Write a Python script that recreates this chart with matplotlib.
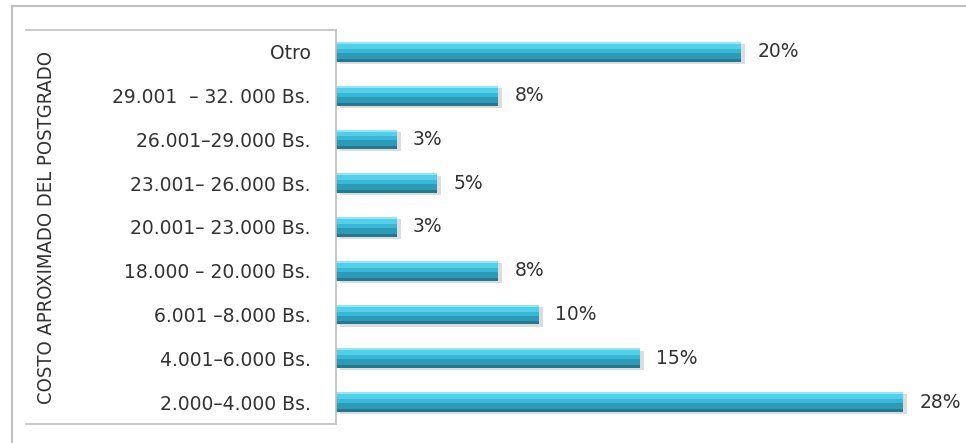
import matplotlib.pyplot as plt
from matplotlib.lines import Line2D

categorias = ['2.000\u20134.000 Bs.', '4.001\u20136.000 Bs.', '6.001 \u20138.000 Bs.',
              '18.000 \u2013 20.000 Bs.', '20.001\u2013 23.000 Bs.', '23.001\u2013 26.000 Bs.',
              '26.001\u201329.000 Bs.', '29.001  \u2013 32. 000 Bs.', 'Otro']
porcentajes = [28, 15, 10, 8, 3, 5, 3, 8, 20]
etiquetas = ['28%', '15%', '10%', '8%', '3%', '5%', '3%', '8%', '20%']

plt.rcParams['font.family'] = ['DejaVu Sans']

fig = plt.figure(figsize=(9.66, 4.43), dpi=100)
ax = fig.add_axes([336 / 966, 19 / 443, 630 / 966, 394 / 443])

pos = list(range(len(categorias)))
alto = 0.45

# capas del degradado: (inicio, fin) como fraccion del alto, color
capas = [(0.00, 0.15, '#237990'), (0.15, 0.45, '#2d9bb7'), (0.45, 0.65, '#39b8d5'),
         (0.65, 0.90, '#52d0ea'), (0.90, 1.00, '#93e6f5')]

# sombra
ax.barh([p - 0.05 for p in pos], porcentajes, height=alto, left=0.2,
        color='#dcdcdc', zorder=1)
for a, b, c in capas:
    ax.barh([p - alto / 2 + alto * a for p in pos], porcentajes, height=alto * (b - a),
            align='edge', color=c, zorder=2)

for p, v, t in zip(pos, porcentajes, etiquetas):
    ax.text(v + 0.8, p, t, va='center', ha='left', fontsize=13.5, color='#333333')

ax.set_xlim(0, 31.1)
ax.set_ylim(-0.5, len(categorias) - 0.5)
ax.set_yticks(pos)
ax.set_yticklabels(categorias, fontsize=13.5, color='#333333')
ax.tick_params(axis='y', length=0, pad=18)
ax.set_xticks([])
for s in ['top', 'right', 'bottom']:
    ax.spines[s].set_visible(False)
ax.spines['left'].set_color('#bfbfbf')
ax.spines['left'].set_linewidth(1.2)

ax.set_ylabel('COSTO APROXIMADO DEL POSTGRADO', fontsize=14.5, color='#333333',
              fontstretch='condensed')
ax.yaxis.set_label_coords(-(336 - 56) / 630, 0.5)

# marcos
gris = '#c0c0c0'
fig.add_artist(Line2D([12 / 966, 12 / 966], [0, 1 - 6 / 443], color=gris, lw=1.5))
fig.add_artist(Line2D([12 / 966, 1], [1 - 6 / 443, 1 - 6 / 443], color=gris, lw=1.5))
fig.add_artist(Line2D([26 / 966, 336 / 966], [1 - 30 / 443, 1 - 30 / 443], color=gris, lw=1.2))
fig.add_artist(Line2D([26 / 966, 336 / 966], [19 / 443, 19 / 443], color=gris, lw=1.2))

fig.savefig('out.png', dpi=100)
